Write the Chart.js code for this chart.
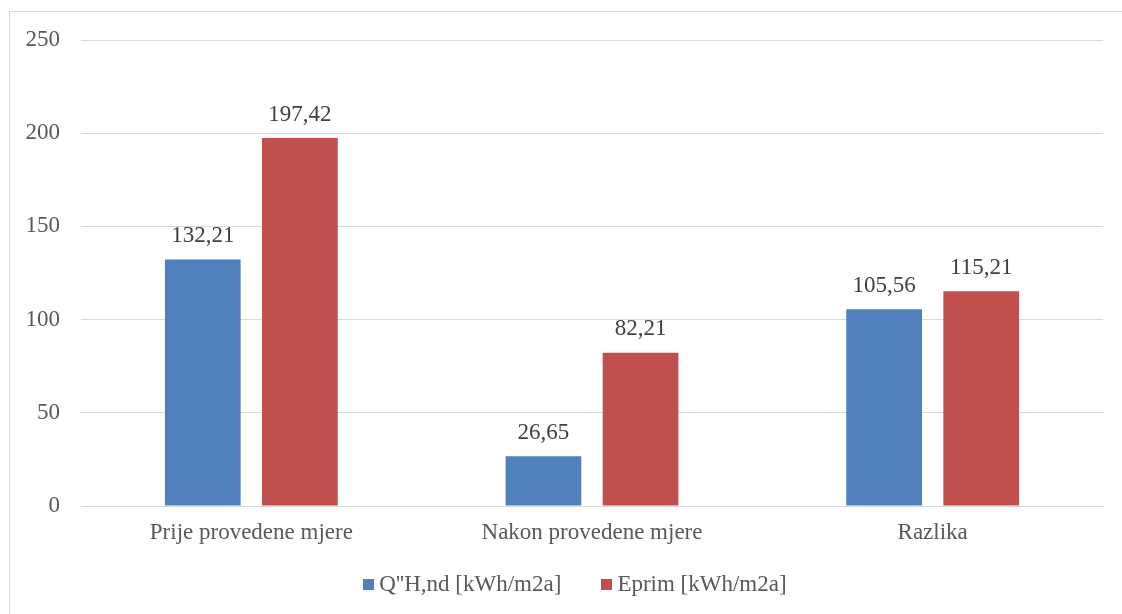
<!DOCTYPE html>
<html>
<head>
<meta charset="utf-8">
<script src="https://cdn.jsdelivr.net/npm/chart.js@4"></script>
<style>
  html, body { margin: 0; padding: 0; background: #fff; }
  #wrap { position: relative; width: 1122px; height: 614px; overflow: hidden; }
  #frame { position: absolute; left: 9px; top: 11px; width: 1130px; height: 620px; border: 1px solid #d9d9d9; box-sizing: border-box; }
  #chart { position: absolute; left: 0; top: 0; }
  #legend { position: absolute; left: 0; top: 570px; width: 1122px; display: flex; justify-content: center; align-items: center;
            font: 23px 'Liberation Serif', 'Times New Roman', serif; color: #595959; line-height: 27px; padding-left: 28px; box-sizing: border-box; }
  #legend .item { display: flex; align-items: center; margin: 0 20px; }
  #legend .box { width: 11px; height: 11px; margin-right: 5px; margin-top: 1px; }
</style>
</head>
<body>
<div id="wrap">
  <div id="frame"></div>
  <canvas id="chart" width="1122" height="614"></canvas>
  <div id="legend"></div>
</div>
<script>
const categories = ['Prije provedene mjere', 'Nakon provedene mjere', 'Razlika'];
const qhnd = [132.21, 26.65, 105.56];
const eprim = [197.42, 82.21, 115.21];
const seriesNames = ["Q''H,nd [kWh/m2a]", 'Eprim [kWh/m2a]'];
const seriesColors = ['#4f81bd', '#c0504d'];
const yTicks = [0, 50, 100, 150, 200, 250];

const FONT = 'Liberation Serif, Times New Roman, serif';

// value labels above bars, comma decimal
const valueLabels = {
    id: 'valueLabels',
    afterDatasetsDraw(chart) {
        const ctx = chart.ctx;
        ctx.save();
        ctx.font = '23px ' + FONT;
        ctx.fillStyle = '#404040';
        ctx.textAlign = 'center';
        ctx.textBaseline = 'bottom';
        chart.data.datasets.forEach((ds, i) => {
            chart.getDatasetMeta(i).data.forEach((bar, j) => {
                ctx.fillText(ds.data[j].toFixed(2).replace('.', ','), bar.x, bar.y - 12);
            });
        });
        ctx.restore();
    }
};

let ctx = document.getElementById('chart').getContext('2d');
// eslint-disable-next-line no-undef
let chart = new Chart(ctx, {
    type: 'bar',
    data: {
        labels: categories,
        datasets: [{
            label: seriesNames[0],
            data: qhnd,
            backgroundColor: seriesColors[0]
        }, {
            label: seriesNames[1],
            data: eprim,
            backgroundColor: seriesColors[1]
        }]
    },
    options: {
        responsive: false,
        animation: false,
        categoryPercentage: 0.57,
        barPercentage: 0.78,
        layout: { padding: { top: 40, right: 19, bottom: 58, left: 0 } },
        plugins: {
            tooltip: { enabled: false },
            legend: { display: false }
        },
        scales: {
            x: {
                afterFit: s => { s.height = 50; },
                grid: { display: false, drawTicks: false },
                border: { color: '#d9d9d9', width: 1 },
                ticks: { font: { family: FONT, size: 23 }, color: '#595959', padding: 13 }
            },
            y: {
                min: 0,
                max: 250,
                afterFit: s => { s.width = 81; },
                afterBuildTicks: s => { s.ticks = yTicks.map(v => ({ value: v })); },
                grid: { color: '#d9d9d9', drawTicks: false },
                border: { display: false },
                ticks: { font: { family: FONT, size: 23 }, color: '#595959', padding: 21 }
            }
        }
    },
    plugins: [valueLabels]
});

// legend as html
const legend = document.getElementById('legend');
chart.data.datasets.forEach(ds => {
    const item = document.createElement('div');
    item.className = 'item';
    const box = document.createElement('span');
    box.className = 'box';
    box.style.background = ds.backgroundColor;
    const txt = document.createElement('span');
    txt.textContent = ds.label;
    item.appendChild(box);
    item.appendChild(txt);
    legend.appendChild(item);
});
</script>
</body>
</html>
